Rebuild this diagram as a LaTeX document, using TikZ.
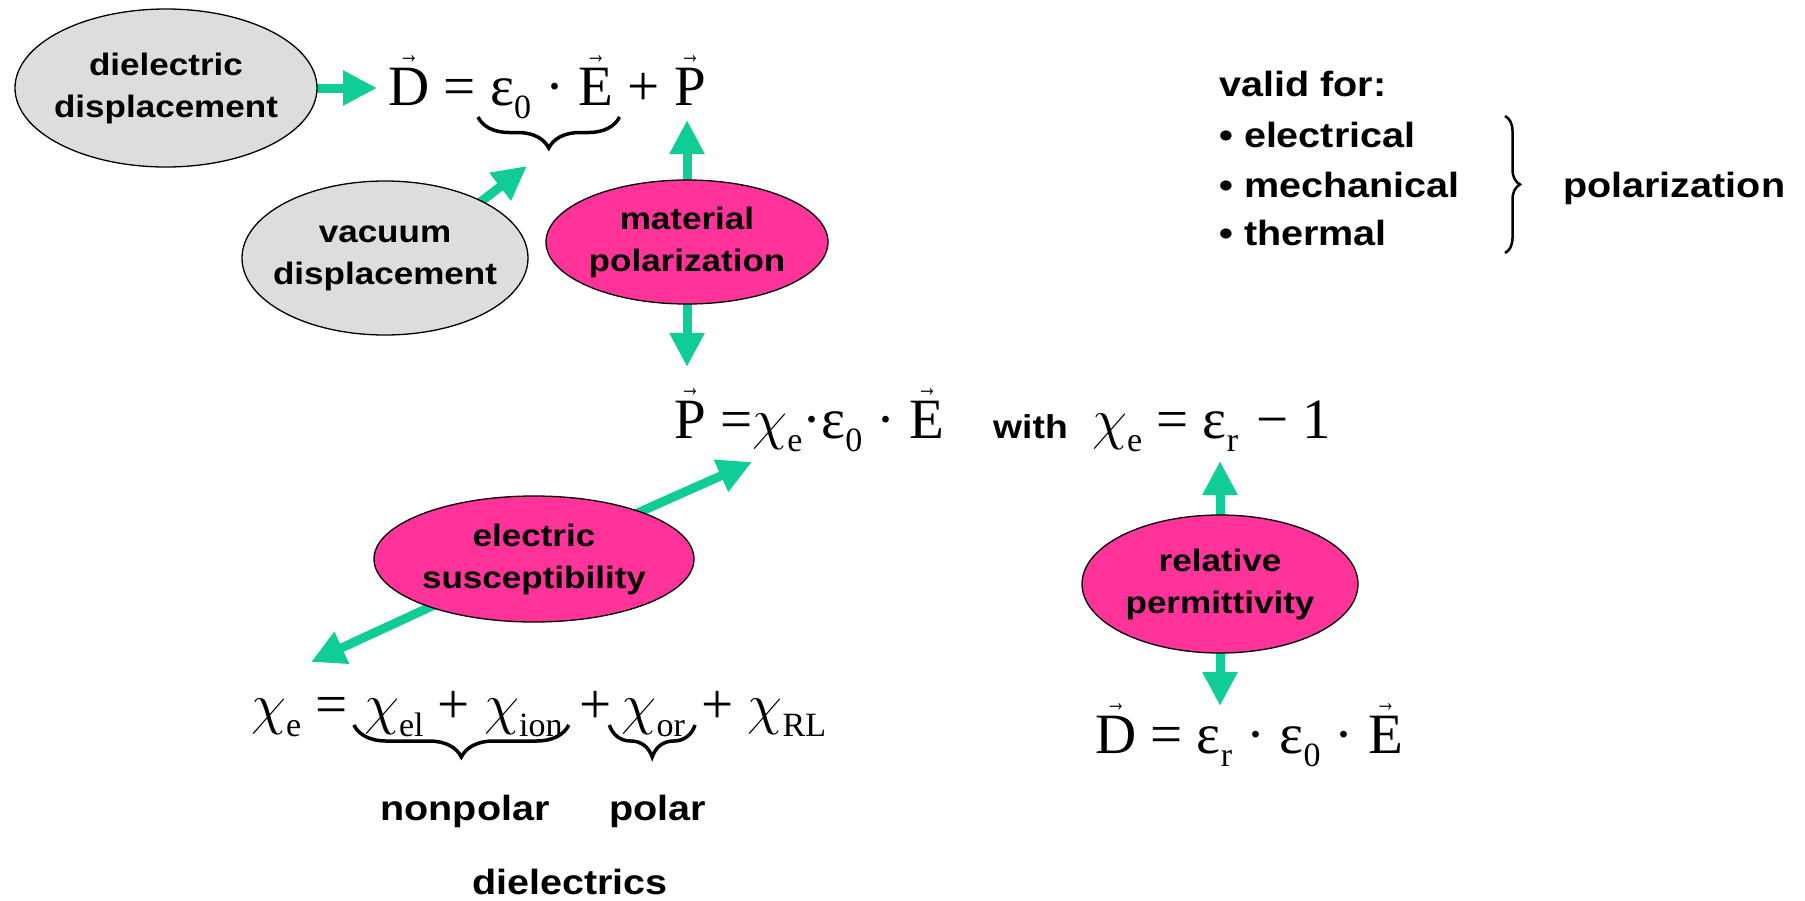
\RequirePackage{fix-cm}
\documentclass[tikz,border=0pt]{standalone}
\usepackage{fontspec}
\usepackage{graphicx}
\setmainfont{Liberation Serif}
\newfontfamily\lsans{Liberation Sans}[FakeStretch=1.13]
\newfontfamily\arrfont{Liberation Sans}
\usetikzlibrary{shapes.geometric,arrows.meta,decorations.pathreplacing}
\pgfdeclarelayer{bg}
\pgfsetlayers{bg,main}
\definecolor{teal2}{RGB}{16,204,150}
\definecolor{mag}{RGB}{255,51,153}
\definecolor{lgrey}{RGB}{221,221,221}
\newsavebox\vvbox
\newcommand\vv[1]{\leavevmode\sbox\vvbox{#1}\rlap{\hbox to\wd\vvbox{\hss\raisebox{\dimexpr\ht\vvbox+0.08em\relax}{\scalebox{0.36}[0.5]{\arrfont →}}\hss}}\usebox\vvbox}
\newcommand\sub[1]{\raisebox{-0.23em}{\fontsize{34}{34}\selectfont #1}}
\newcommand\cchi{\ensuremath{\chi}}
\tikzset{
  lab/.style={font=\lsans\bfseries\fontsize{31}{42}\selectfont, align=center, inner sep=0pt},
  oval/.style={ellipse, draw=black, line width=1.3pt, inner sep=0pt},
  goval/.style={oval, fill=lgrey},
  moval/.style={oval, fill=mag},
  arr/.style={draw=teal2, line width=9pt, -{Triangle[length=34pt,width=33pt]}},
  eqn/.style={anchor=base west, inner sep=0pt, font=\fontsize{57}{62}\selectfont},
  txt/.style={anchor=base west, inner sep=0pt, font=\lsans\bfseries\fontsize{35}{42}\selectfont},
  ctxt/.style={txt, anchor=base},
  brc/.style={decorate, draw=black, line width=3.5pt, decoration={brace, mirror, amplitude=#1}},
}
\begin{document}
\begin{tikzpicture}[x=1pt,y=-1pt]
\begin{pgfonlayer}{bg}
\path[use as bounding box, fill=white] (0,0) rectangle (1805,900);
\end{pgfonlayer}

% ellipses
\node[goval, minimum width=302pt, minimum height=158pt] (diel) at (166,88) {};
\node[lab] (dielT) at (diel.center) {dielectric\\displacement};
\node[goval, minimum width=286pt, minimum height=154pt] (vac) at (385,258) {};
\node[lab] (vacT) at (vac.center) {vacuum\\displacement};
\node[moval, minimum width=282pt, minimum height=124pt] (mat) at (687,242) {};
\node[lab] (matT) at (mat.center) {material\\polarization};
\node[moval, minimum width=320pt, minimum height=126pt] (sus) at (534,559) {};
\node[lab] (susT) at (sus.center) {electric\\susceptibility};
\node[moval, minimum width=276pt, minimum height=138pt] (rel) at (1220,584) {};
\node[lab] (relT) at (rel.center) {relative\\permittivity};

% equation 1
\node[eqn] (d1) at (388,105) {\vv{D} =};
\node[eqn] (d2) at ([xshift=14pt]d1.base east) {ε\sub{0} · \vv{E}};
\node[eqn] (d3) at ([xshift=14pt]d2.base east) {+ \vv{P}};
\draw[brc=31pt] ([xshift=-12pt,yshift=-12pt]d2.base west) -- ([xshift=6pt,yshift=-12pt]d2.base east);

% equation 2
\node[eqn] (e2) at (674,438) {\vv{P} =\cchi\sub{e}·ε\sub{0} · \vv{E}};
\node[txt, font=\lsans\bfseries\fontsize{33}{40}\selectfont] (w) at (993,438) {with};
\node[eqn] (e3) at (1092,438) {\cchi\sub{e} = ε\sub{r}\hspace{4pt} − 1};

% equation 3
\node[eqn] (e4) at (1095,753) {\vv{D} = ε\sub{r} · ε\sub{0} · \vv{E}};

% equation 4
\node[eqn] (c1) at (251,723) {\cchi\sub{e} =};
\node[eqn] (c2) at ([xshift=16pt]c1.base east) {\cchi\sub{el} + \cchi\sub{ion}};
\node[eqn] (c3) at ([xshift=16pt]c2.base east) {+};
\node[eqn] (c4) at ([xshift=10pt]c3.base east) {\cchi\sub{or}};
\node[eqn] (c5) at ([xshift=16pt]c4.base east) {+ \cchi\sub{RL}};
\draw[brc=32pt] ([xshift=-10pt,yshift=-2pt]c2.base west) -- ([xshift=6pt,yshift=-2pt]c2.base east);
\draw[brc=32pt] ([xshift=-12pt,yshift=-2pt]c4.base west) -- ([xshift=10pt,yshift=-2pt]c4.base east);

\node[ctxt] (np) at (465,820) {nonpolar};
\node[ctxt] (po) at (658,820) {polar};
\node[ctxt] (die) at (570,894) {dielectrics};

% right text
\node[txt] (vf) at (1219,96) {valid for:};
\node[txt] (i1) at (1219,147) {• electrical};
\node[txt] (i2) at (1219,197) {• mechanical};
\node[txt] (i3) at (1219,245) {• thermal};
\draw[decorate, draw=black, line width=2.5pt, decoration={brace, amplitude=15pt}] (1505,116) -- (1505,253);
\node[txt] (pol) at (1563,197) {polarization};

% arrow tips
\coordinate (tD) at (377,88);
\coordinate (vS) at (461,217);
\coordinate (tV) at (527,166);
\coordinate (tPu) at (687,120);
\coordinate (tPd) at (687,367);
\coordinate (tS1) at (752,462);
\coordinate (tS2) at (311,662);
\coordinate (tR1) at (1220,461);
\coordinate (tR2) at (1220,706);

\begin{pgfonlayer}{bg}
\draw[arr] (diel.center) -- (tD);
\draw[arr] (vS) -- (tV);
\draw[arr] (mat.center) -- (tPu);
\draw[arr] (mat.center) -- (tPd);
\draw[arr] (sus.center) -- (tS1);
\draw[arr] (sus.center) -- (tS2);
\draw[arr] (rel.center) -- (tR1);
\draw[arr] (rel.center) -- (tR2);
\end{pgfonlayer}
\end{tikzpicture}
\end{document}
